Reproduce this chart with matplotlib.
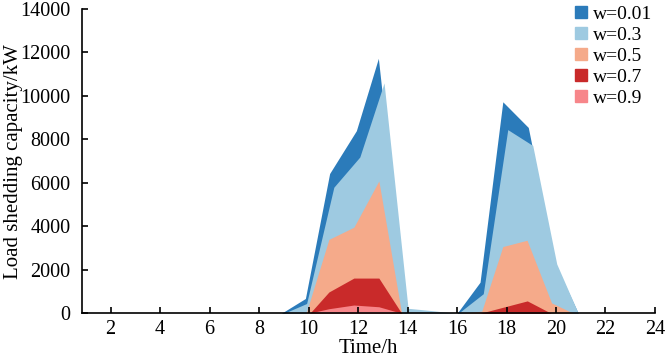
import numpy as np
import matplotlib
matplotlib.use("Agg")
import matplotlib.pyplot as plt
from matplotlib.patches import Patch

plt.rcParams['font.family'] = ['Liberation Serif', 'DejaVu Serif']

# hours and load shedding capacity (kW), one array pair per weight
labels = ['w=0.01', 'w=0.3', 'w=0.5', 'w=0.7', 'w=0.9']
colors = ['#2b7bba', '#9ecae1', '#f5aa8a', '#c92a2a', '#f7868a']

t_001 = [1, 8.9, 9.87, 10.85, 11.93, 12.82, 13.95, 16.0, 16.93, 17.85, 18.88, 20.0, 20.9, 24]
p_001 = [0, 0, 680, 6430, 8400, 11730, 0, 0, 1430, 9730, 8550, 2200, 0, 0]

t_03 = [1, 9.0, 9.92, 11.02, 12.07, 13.05, 14.02, 15.0, 15.95, 16.05, 17.06, 18.05, 19.06, 20.03, 20.9, 24]
p_03 = [0, 0, 450, 5800, 7190, 10600, 230, 120, 0, 0, 900, 8450, 7720, 2270, 0, 0]

t_05 = [1, 9.9, 10.82, 11.83, 12.84, 13.76, 16.2, 17.0, 17.85, 18.83, 19.82, 20.7, 24]
p_05 = [0, 0, 3400, 3960, 6090, 0, 0, 100, 3070, 3360, 480, 0, 0]

t_07 = [1, 10.05, 10.82, 11.83, 12.84, 13.76, 16.93, 18.84, 19.8, 24]
p_07 = [0, 0, 980, 1620, 1620, 0, 0, 570, 0, 0]

t_09 = [1, 10.0, 10.82, 11.83, 12.84, 13.76, 24]
p_09 = [0, 0, 210, 380, 300, 0, 0]

series = [(t_001, p_001), (t_03, p_03), (t_05, p_05), (t_07, p_07), (t_09, p_09)]

fig = plt.figure(figsize=(6.71, 3.58), dpi=100)
ax = fig.add_axes([0.1218, 0.1249, 0.8543, 0.850])

for (t, p), c in zip(series, colors):
    ax.fill_between(t, 0, p, color=c, linewidth=0)

ax.set_xlim(0.83, 24)
ax.set_ylim(0, 14000)
ax.set_xticks(np.arange(2, 25, 2))
ax.set_yticks(np.arange(0, 14001, 2000))
ax.tick_params(direction='in', length=4, width=1.2, labelsize=14.5)
ax.tick_params(axis='y', pad=8)
ax.tick_params(axis='x', pad=5)
for s in ['top', 'right']:
    ax.spines[s].set_visible(False)
for s in ['left', 'bottom']:
    ax.spines[s].set_linewidth(1.2)

ax.set_xlabel('Time/h', fontsize=15, labelpad=0)
ax.set_ylabel('Load shedding capacity/kW', fontsize=15)
ax.yaxis.set_label_coords(-0.103, 0.5)

handles = [Patch(color=c, label=l) for c, l in zip(colors, labels)]
ax.legend(handles=handles, loc='upper left', bbox_to_anchor=(575 / 671, 1 - 6 / 358),
          bbox_transform=fig.transFigure, frameon=False, fontsize=14,
          handlelength=0.6, handleheight=0.6, handletextpad=0.35,
          labelspacing=0.2, borderaxespad=0, borderpad=0)

fig.savefig('out.png', dpi=100)
